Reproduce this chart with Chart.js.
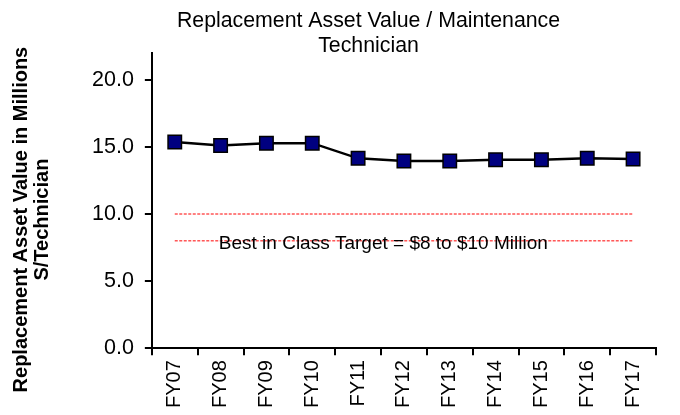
<!DOCTYPE html>
<html>
<head>
<meta charset="utf-8">
<script src="https://cdn.jsdelivr.net/npm/chart.js@4"></script>
<style>
  html, body { margin: 0; padding: 0; background: #fff; }
  #wrap { width: 680px; height: 415px; }
</style>
</head>
<body>
<div id="wrap"><canvas id="c" width="680" height="415"></canvas></div>
<script>
const categories = ['FY07','FY08','FY09','FY10','FY11','FY12','FY13','FY14','FY15','FY16','FY17'];
const assetPerTech = [15.36, 15.1, 15.28, 15.28, 14.15, 13.95, 13.95, 14.05, 14.05, 14.15, 14.1];
const targetHigh = [10,10,10,10,10,10,10,10,10,10,10];
const targetLow = [8,8,8,8,8,8,8,8,8,8,8];
const yTicks = [0, 5, 10, 15, 20];
const chartTitle = ['Replacement Asset Value / Maintenance', 'Technician'];
const yAxisTitle = ['Replacement Asset Value in Millions', 'S/Technician'];
const targetLabel = 'Best in Class Target = $8 to $10 Million';

const FONT = "'Liberation Sans', Arial, sans-serif";

const extraText = {
  id: 'extraText',
  afterDatasetsDraw(chart) {
    const ctx = chart.ctx;
    const xs = chart.scales.x, ys = chart.scales.y;
    ctx.save();
    ctx.fillStyle = '#000';
    // target annotation
    ctx.font = '19px ' + FONT;
    ctx.textAlign = 'center';
    ctx.textBaseline = 'middle';
    ctx.fillText(targetLabel, xs.getPixelForValue(4.55), ys.getPixelForValue(7.8));
    // y-axis title (rotated)
    ctx.font = 'bold 20px ' + FONT;
    const cy = (chart.chartArea.top + chart.chartArea.bottom) / 2 + 19;
    ctx.translate(21, cy);
    ctx.rotate(-Math.PI / 2);
    ctx.fillText(yAxisTitle[0], 0, 0);
    ctx.fillText(yAxisTitle[1], 0, 21);
    ctx.restore();
  }
};

new Chart(document.getElementById('c'), {
  type: 'line',
  data: {
    labels: categories,
    datasets: [
      {
        data: assetPerTech,
        borderColor: '#000',
        borderWidth: 2.5,
        backgroundColor: '#000080',
        pointStyle: 'rect',
        pointRadius: 9.5,
        pointBorderColor: '#000',
        pointBorderWidth: 1.5,
        pointBackgroundColor: '#000080',
        tension: 0,
        order: 0
      },
      {
        data: targetHigh,
        borderColor: '#ff0000',
        borderWidth: 1,
        borderDash: [3, 1.5],
        pointRadius: 0,
        fill: false,
        order: 1
      },
      {
        data: targetLow,
        borderColor: '#ff0000',
        borderWidth: 1,
        borderDash: [3, 1.5],
        pointRadius: 0,
        fill: false,
        order: 1
      }
    ]
  },
  options: {
    responsive: false,
    animation: false,
    devicePixelRatio: 1,
    layout: { padding: { left: 81, right: 24, top: 0, bottom: 2 } },
    plugins: {
      legend: { display: false },
      tooltip: { enabled: false },
      title: {
        display: true,
        text: chartTitle,
        color: '#000',
        font: { family: FONT, size: 21.3, weight: 'normal', lineHeight: 1.15 },
        padding: { top: 9, bottom: -5 }
      }
    },
    scales: {
      x: {
        offset: true,
        border: { display: true, color: '#000', width: 2 },
        grid: { display: true, drawOnChartArea: false, offset: true, tickLength: 7, color: '#000', lineWidth: 2 },
        ticks: {
          color: '#000',
          font: { family: FONT, size: 20 },
          minRotation: 90,
          maxRotation: 90,
          autoSkip: false,
          padding: 5
        }
      },
      y: {
        min: 0,
        max: 22,
        afterBuildTicks(scale) {
          scale.ticks = yTicks.map(v => ({ value: v }));
        },
        border: { display: true, color: '#000', width: 2 },
        grid: { display: true, drawOnChartArea: false, tickLength: 7, color: '#000', lineWidth: 2 },
        ticks: {
          color: '#000',
          font: { family: FONT, size: 21.5 },
          padding: 11,
          callback: v => Number(v).toFixed(1)
        }
      }
    }
  },
  plugins: [extraText]
});
</script>
</body>
</html>
